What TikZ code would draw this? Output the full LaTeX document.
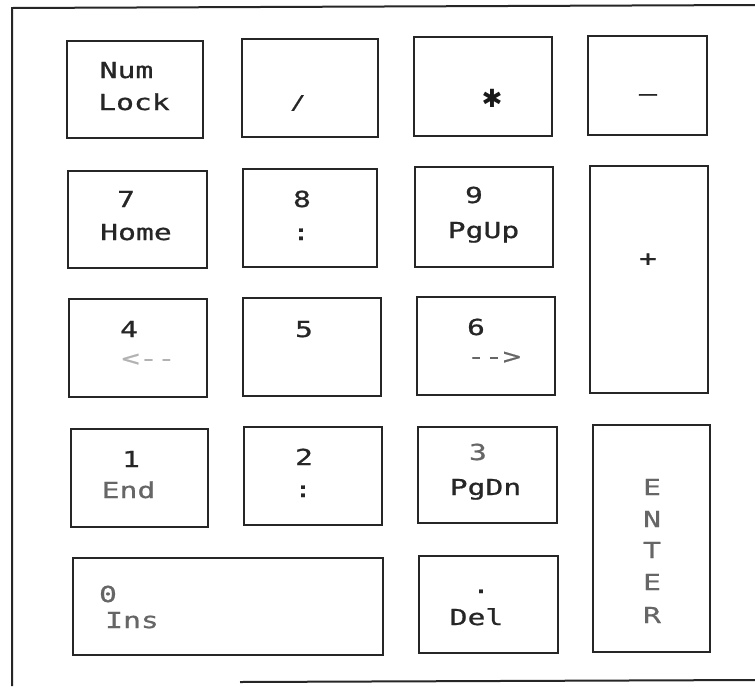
\documentclass[tikz,border=0pt]{standalone}
\usepackage{fontspec}
\newfontfamily\kf[FakeStretch=1.35,FakeBold=0.8]{DejaVu Sans Mono}
\newfontfamily\symf{DejaVu Sans}
\newcommand\kbox[5]{\node[keyb, minimum width={(#4-#2)*1pt}, minimum height={(#5-#3)*1pt}] (#1) at ({(#2+#4)/2},{(#3+#5)/2}) {};}
\begin{document}
\begin{tikzpicture}[x=1pt,y=-1pt,
  keyb/.style={draw=black!85, line width=2.2pt, inner sep=0pt, outer sep=0pt},
  frame/.style={draw=black!85, line width=2pt},
  lab/.style={font=\kf\fontsize{22}{22}\selectfont, text=black!85, inner sep=0pt, anchor=base},
  faint/.style={text=black!60},
  fainter/.style={text=black!30}]
\useasboundingbox[fill=white] (0,0) rectangle (755,686);
% frame
\coordinate (bl) at (12,686);
\coordinate (tl) at (12,8);
\coordinate (tr) at (755,5);
\coordinate (bs) at (240,682);
\coordinate (br) at (755,680);
\draw[frame] (bl) -- (tl) -- (tr);
\draw[frame] (bs) -- (br);
% keys
\kbox{numlock}{67}{41}{203}{138}
\kbox{slash}{242}{39}{378}{137}
\kbox{star}{414}{37}{552}{136}
\kbox{minus}{588}{36}{707}{135}
\kbox{k7}{68}{171}{207}{268}
\kbox{k8}{243}{169}{377}{267}
\kbox{k9}{415}{167}{553}{267}
\kbox{plus}{590}{166}{708}{393}
\kbox{k4}{69}{299}{207}{397}
\kbox{k5}{243}{298}{381}{396}
\kbox{k6}{417}{297}{555}{395}
\kbox{k1}{71}{429}{208}{527}
\kbox{k2}{244}{427}{382}{525}
\kbox{k3}{418}{427}{557}{523}
\kbox{enter}{593}{425}{710}{652}
\kbox{k0}{73}{558}{383}{655}
\kbox{del}{419}{556}{558}{653}
% labels
\node[lab] (t-num) at (126.5,78) {Num};
\node[lab] (t-lock) at (134,110) {Lock};
\node[lab, font=\kf\fontsize{19}{19}\selectfont] (t-slash) at (298,109) {/};
\node[inner sep=0pt, font=\symf\fontsize{25}{25}\selectfont, text=black!90] (t-star) at (492,98) {✱};
\node[lab] (t-minus) at (648,101) {–};
\node[lab] (t-7) at (126,207) {7};
\node[lab] (t-home) at (136,240) {Home};
\node[lab] (t-8) at (302,207) {8};
\node[lab] (t-8b) at (301,240) {:};
\node[lab] (t-9) at (474,203) {9};
\node[lab] (t-pgup) at (483.5,238) {PgUp};
\node[lab] (t-plus) at (648,266) {+};
\node[lab] (t-4) at (129,337) {4};
\node[lab, fainter] (t-4b) at (148.5,366) {<--};
\node[lab] (t-5) at (304,337) {5};
\node[lab] (t-6) at (476,335) {6};
\node[lab, faint] (t-6b) at (494,364) {-->};
\node[lab] (t-1) at (131,467) {1};
\node[lab, faint] (t-end) at (128.5,498) {End};
\node[lab] (t-2) at (304,465) {2};
\node[lab] (t-2b) at (303,497) {:};
\node[lab, faint] (t-3) at (478,460) {3};
\node[lab] (t-pgdn) at (485.5,495) {PgDn};
\node[lab, faint] (t-e1) at (652,495) {E};
\node[lab, faint] (t-n) at (652,527) {N};
\node[lab, faint] (t-t) at (652,558) {T};
\node[lab, faint] (t-e2) at (652,590) {E};
\node[lab, faint] (t-r) at (652,623) {R};
\node[lab, faint] (t-0) at (108,602) {0};
\node[lab, faint] (t-ins) at (132,628) {Ins};
\node[lab] (t-dot) at (481,593) {.};
\node[lab] (t-del) at (476.5,625) {Del};
\end{tikzpicture}
\end{document}
